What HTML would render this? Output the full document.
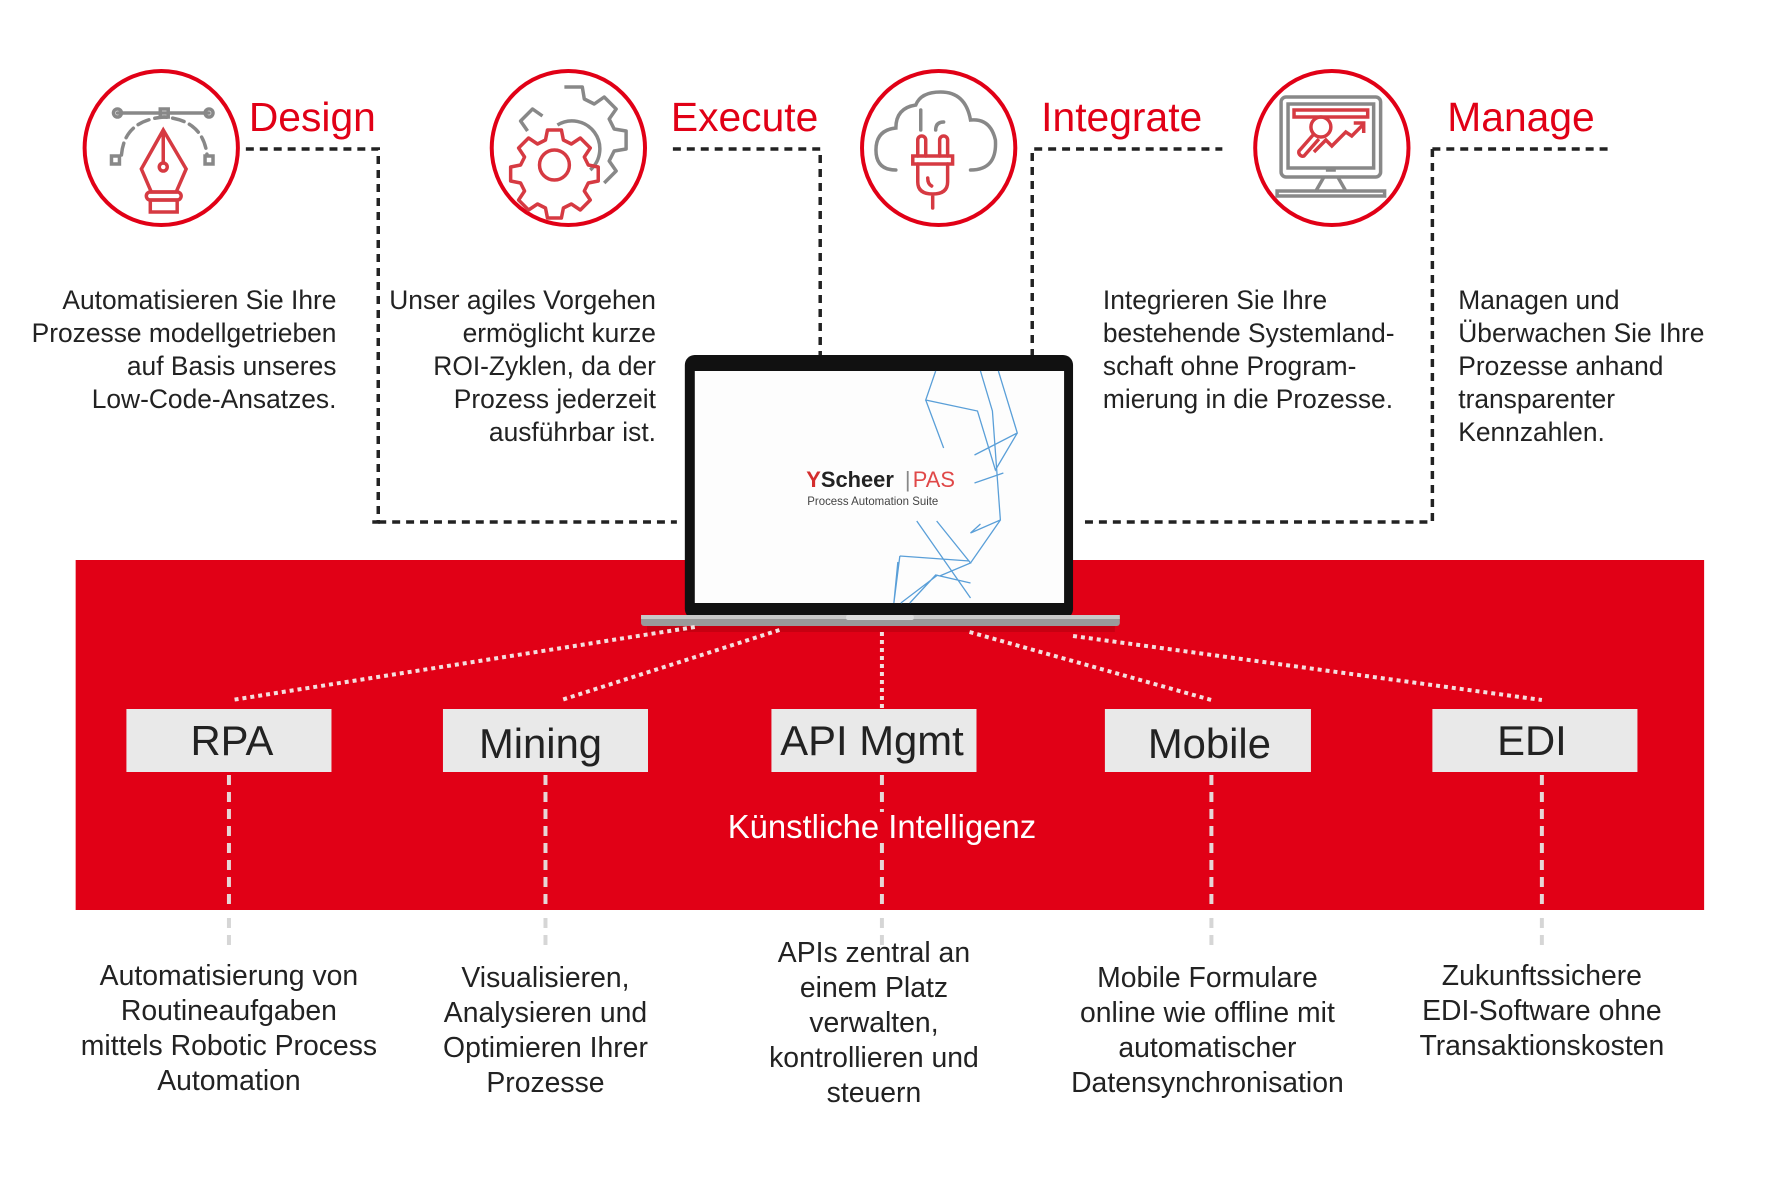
<!DOCTYPE html>
<html><head><meta charset="utf-8"><style>
html,body{margin:0;padding:0;background:#fff;}
svg{display:block;}
text{font-family:"Liberation Sans",sans-serif;}
</style></head><body>
<svg width="1771" height="1181" viewBox="0 0 1771 1181" xmlns="http://www.w3.org/2000/svg">
<rect width="1771" height="1181" fill="#fff"/>
<g transform="scale(0.9954,1)">
<!-- red band -->
<rect x="76" y="560" width="1636" height="350" fill="#e10016"/>

<!-- black dotted connectors -->
<g stroke="#222" stroke-width="3.5" fill="none" stroke-dasharray="8 6">
<path d="M247 149 H380 V522 H369"/>
<path d="M380 522 H680"/>
<path d="M676 149 H824 V357"/>
<path d="M1037 357 V149 H1228"/>
<path d="M1439 149 H1620"/>
<path d="M1439 149 V522 H1090"/>
</g>

<!-- circles -->
<g fill="none" stroke="#e10016" stroke-width="4">
<circle cx="162" cy="148" r="77"/>
<circle cx="571" cy="148" r="77"/>
<circle cx="943" cy="148" r="77"/>
<circle cx="1338" cy="148" r="77"/>
</g>

<!-- Design icon -->
<g fill="none" stroke-width="3.5" stroke-linecap="round">
<path d="M118 113 H210" stroke="#888"/>
<circle cx="118" cy="113" r="4" stroke="#888"/>
<circle cx="210" cy="113" r="4" stroke="#888"/>
<rect x="161" y="109" width="8" height="8" stroke="#888"/>
<path d="M122 155 Q125 120 165 117 Q204 120 208 155" stroke="#888" stroke-dasharray="12 6"/>
<rect x="112" y="156" width="8" height="8" stroke="#888"/>
<rect x="206" y="156" width="8" height="8" stroke="#888"/>
<path d="M164 130 L142 169 L152 192 H177 L187 169 Z M164 130 V163" stroke="#d63a42"/>
<circle cx="164" cy="167" r="4" stroke="#d63a42"/>
<rect x="147" y="192" width="35" height="8" rx="4" stroke="#d63a42"/>
<rect x="151" y="200" width="27" height="12" stroke="#d63a42"/>
</g>

<!-- Execute icon -->
<g fill="none" stroke-width="3.5" stroke-linejoin="round">
<path d="M567 87 h18 l2 12 l10 5 l10 -7 l12 12 l-7 10 l5 10 l12 2 v18 l-12 2 l-5 10 l7 10 l-12 12" stroke="#888"/>
<path d="M545 116 l-10 -7 l-12 12 l7 10" stroke="#888"/>
<path d="M560 125 a28 28 0 0 1 33 45" stroke="#888"/>
<path d="M550 130 h14 l2 10 l8 4 l9 -6 l10 10 l-6 9 l4 8 l10 2 v14 l-10 2 l-4 8 l6 9 l-10 10 l-9 -6 l-8 4 l-2 10 h-14 l-2 -10 l-8 -4 l-9 6 l-10 -10 l6 -9 l-4 -8 l-10 -2 v-14 l10 -2 l4 -8 l-6 -9 l10 -10 l9 6 l8 -4 z" stroke="#d63a42"/>
<circle cx="557" cy="165" r="15" stroke="#d63a42"/>
</g>

<!-- Integrate icon -->
<g fill="none" stroke-width="3.5" stroke-linecap="round">
<path d="M900 170 Q880 170 880 150 Q880 130 900 128 Q900 108 920 105 Q925 92 945 92 Q970 92 975 120 Q995 118 1000 140 Q1002 170 975 170" stroke="#888"/>
<path d="M925 130 V110" stroke="#888"/>
<path d="M940 130 Q940 122 948 122" stroke="#888"/>
<path d="M922 156 v-16 a4 4 0 0 1 8 0 v16 M944 156 v-16 a4 4 0 0 1 8 0 v16" stroke="#d63a42"/>
<rect x="917" y="156" width="40" height="8" stroke="#d63a42"/>
<path d="M922 164 v18 q0 12 15 12 q15 0 15 -12 v-18 M937 194 v14 M932 178 q0 6 4 8" stroke="#d63a42"/>
</g>

<!-- Manage icon -->
<g fill="none" stroke-width="3.5">
<rect x="1287" y="97" width="100" height="80" rx="5" stroke="#888"/>
<rect x="1294" y="104" width="86" height="64" stroke="#888"/>
<path d="M1330 177 l-8 14 M1344 177 l8 14 M1283 191 h108 v5 h-108 z M1332 170 h10" stroke="#888"/>
<rect x="1300" y="110" width="74" height="7" stroke="#d63a42"/>
<circle cx="1327" cy="127" r="10" stroke="#d63a42"/>
<path d="M1320 134 l-15 17 a4 4 0 0 0 5 5 l15 -17 M1320 152 l12 -12 l6 6 l14 -14 l6 4 l12 -12 M1360 123 h10 v10" stroke="#d63a42"/>
</g>

<!-- titles -->
<g fill="#e10016" font-size="41">
<text x="250" y="131">Design</text>
<text x="674" y="131">Execute</text>
<text x="1046" y="131">Integrate</text>
<text x="1454" y="131">Manage</text>
</g>

<!-- top descriptions -->
<g fill="#222" font-size="26.5">
<g text-anchor="end">
<text x="338" y="309">Automatisieren Sie Ihre</text>
<text x="338" y="342">Prozesse modellgetrieben</text>
<text x="338" y="375">auf Basis unseres</text>
<text x="338" y="408">Low-Code-Ansatzes.</text>
<text x="659" y="309">Unser agiles Vorgehen</text>
<text x="659" y="342">ermöglicht kurze</text>
<text x="659" y="375">ROI-Zyklen, da der</text>
<text x="659" y="408">Prozess jederzeit</text>
<text x="659" y="441">ausführbar ist.</text>
</g>
<text x="1108" y="309">Integrieren Sie Ihre</text>
<text x="1108" y="342">bestehende Systemland-</text>
<text x="1108" y="375">schaft ohne Program-</text>
<text x="1108" y="408">mierung in die Prozesse.</text>
<text x="1465" y="309">Managen und</text>
<text x="1465" y="342">Überwachen Sie Ihre</text>
<text x="1465" y="375">Prozesse anhand</text>
<text x="1465" y="408">transparenter</text>
<text x="1465" y="441">Kennzahlen.</text>
</g>

<!-- laptop -->
<rect x="688" y="355" width="390" height="264" rx="10" fill="#111"/>
<rect x="698" y="371" width="371" height="232" fill="#fdfdfd"/>
<g fill="none" stroke="#5a9fd8" stroke-width="1.3">
<path d="M940 371 L930 400 L982 411 L1000 470 L1022 433 L1003 371 M985 371 L997 411 L1005 520 L975 533 L985 524 M979 455 L1022 433 M979 483 L1008 473 M921 521 L975 598 M941 521 L975 563 L944 576 M904 556 L974 561 M904 556 L898 603 M902 562 L898 603 M942 575 L905 603 M975 583 L940 575 L914 603 M1005 520 L975 563 M930 400 L948 448"/>
</g>
<text x="810" y="487" font-size="22" font-weight="bold" fill="#222"><tspan fill="#d42e2e">Y</tspan>Scheer</text>
<text x="909" y="487" font-size="22" fill="#888">|</text>
<text x="917" y="487" font-size="22" fill="#e04848">PAS</text>
<text x="811" y="505" font-size="11.5" fill="#444">Process Automation Suite</text>
<rect x="644" y="615" width="481" height="11" rx="3" fill="#9a9a9a"/>
<rect x="644" y="615" width="481" height="4" fill="#c9c9c9"/>
<rect x="850" y="615" width="68" height="5" rx="2" fill="#ddd"/>
<rect x="650" y="626" width="470" height="6" fill="#b5000f" opacity="0.6"/>

<!-- white dotted connectors -->
<g stroke="#f4dede" stroke-width="4" stroke-dasharray="4 4" fill="none">
<path d="M698 627 L233 700"/>
<path d="M783 630 L564 700"/>
<path d="M886 632 V710"/>
<path d="M974 632 L1217 700"/>
<path d="M1078 636 L1549 700"/>
</g>

<!-- boxes -->
<g fill="#e9e9e9">
<rect x="127" y="709" width="206" height="63"/>
<rect x="445" y="709" width="206" height="63"/>
<rect x="775" y="709" width="206" height="63"/>
<rect x="1110" y="709" width="207" height="63"/>
<rect x="1439" y="709" width="206" height="63"/>
</g>
<g fill="#222" font-size="42" text-anchor="middle">
<text x="233" y="755">RPA</text>
<text x="543" y="758">Mining</text>
<text x="876" y="755">API Mgmt</text>
<text x="1215" y="758">Mobile</text>
<text x="1539" y="755">EDI</text>
</g>

<!-- vertical dashed -->
<g stroke-width="4" stroke-dasharray="10 7" fill="none">
<g stroke="#e6d6d6">
<path d="M230 775 V910 M548 775 V910 M886 775 V910 M1217 775 V910 M1549 775 V910"/>
</g>
<g stroke="#d6d6d6">
<path d="M230 918 V945 M548 918 V945 M886 918 V945 M1217 918 V945 M1549 918 V945"/>
</g>
</g>

<rect x="728" y="812" width="316" height="30" fill="#e10016"/>
<text x="886" y="838" font-size="33" fill="#fff" text-anchor="middle">Künstliche Intelligenz</text>

<!-- bottom descriptions -->
<g fill="#222" font-size="28.5" text-anchor="middle">
<text x="230" y="985">Automatisierung von</text>
<text x="230" y="1020">Routineaufgaben</text>
<text x="230" y="1055">mittels Robotic Process</text>
<text x="230" y="1090">Automation</text>
<text x="548" y="987">Visualisieren,</text>
<text x="548" y="1022">Analysieren und</text>
<text x="548" y="1057">Optimieren Ihrer</text>
<text x="548" y="1092">Prozesse</text>
<text x="878" y="962">APIs zentral an</text>
<text x="878" y="997">einem Platz</text>
<text x="878" y="1032">verwalten,</text>
<text x="878" y="1067">kontrollieren und</text>
<text x="878" y="1102">steuern</text>
<text x="1213" y="987">Mobile Formulare</text>
<text x="1213" y="1022">online wie offline mit</text>
<text x="1213" y="1057">automatischer</text>
<text x="1213" y="1092">Datensynchronisation</text>
<text x="1549" y="985">Zukunftssichere</text>
<text x="1549" y="1020">EDI-Software ohne</text>
<text x="1549" y="1055">Transaktionskosten</text>
</g>
</g>
</svg>
</body></html>
